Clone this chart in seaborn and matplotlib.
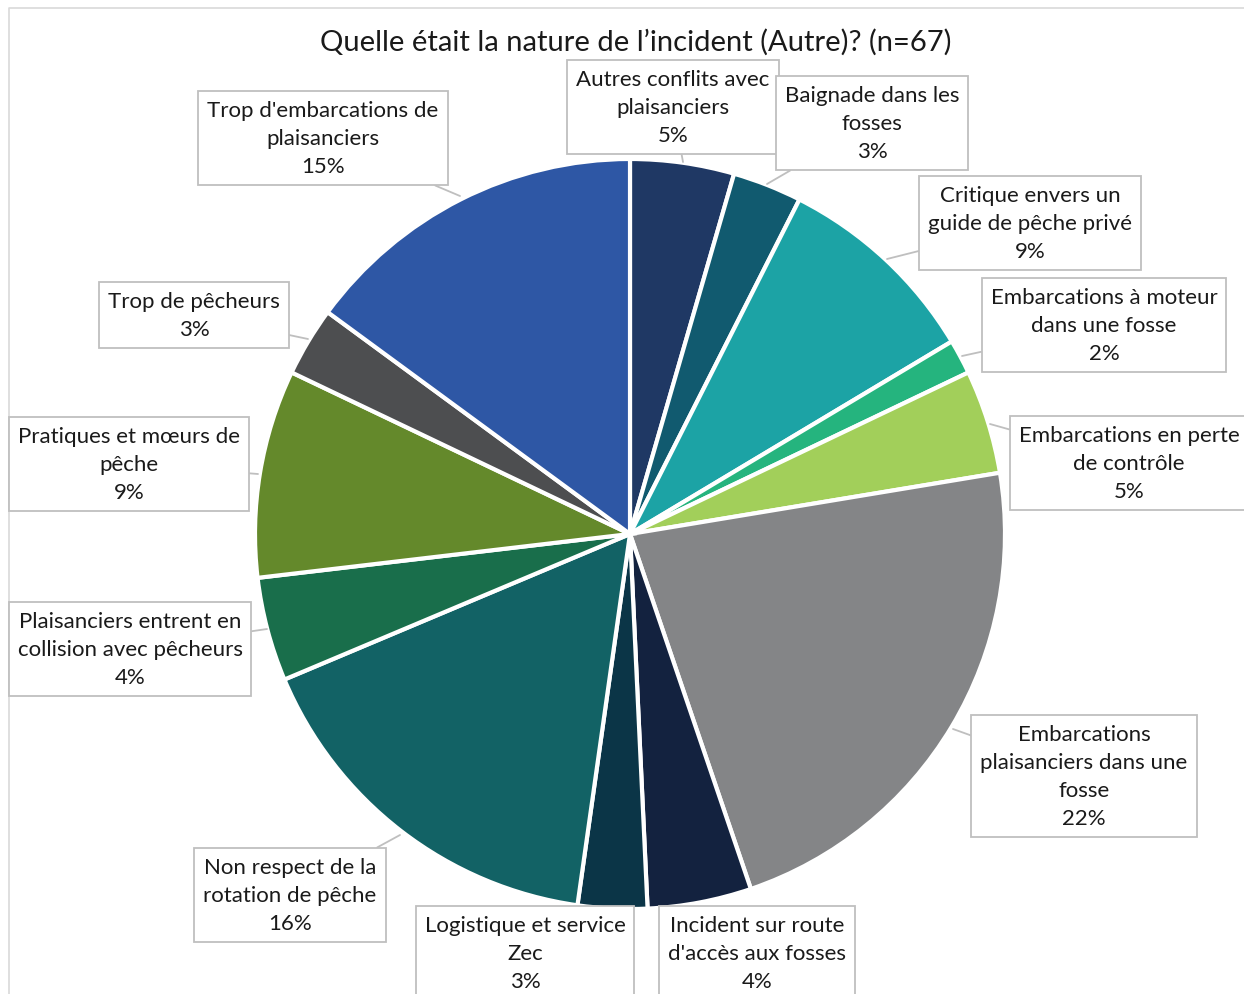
import matplotlib.pyplot as plt
import seaborn as sns

# data
categories = [
    "Autres conflits avec\nplaisanciers",
    "Baignade dans les\nfosses",
    "Critique envers un\nguide de pêche privé",
    "Embarcations à moteur\ndans une fosse",
    "Embarcations en perte\nde contrôle",
    "Embarcations\nplaisanciers dans une\nfosse",
    "Incident sur route\nd'accès aux fosses",
    "Logistique et service\nZec",
    "Non respect de la\nrotation de pêche",
    "Plaisanciers entrent en\ncollision avec pêcheurs",
    "Pratiques et mœurs de\npêche",
    "Trop de pêcheurs",
    "Trop d'embarcations de\nplaisanciers",
]
counts = [3, 2, 6, 1, 3, 15, 3, 2, 11, 3, 6, 2, 10]
pct_labels = ["5%", "3%", "9%", "2%", "5%", "22%", "4%", "3%", "16%", "4%", "9%", "3%", "15%"]

colors = ["#1F3864", "#115A6F", "#1CA3A5", "#25B47E", "#A2CF5A", "#848587",
          "#13223F", "#0B3547", "#126265", "#196E4B", "#64892B", "#4D4E50", "#2E57A5"]

# label box centres and leader tips (pixel coords, y from top)
box_pos = [(673, 108), (872, 124), (1030, 224), (1104, 326), (1129, 464), (1084, 777),
           (757, 954), (525, 954), (290, 896), (130, 650), (129, 465), (194, 316), (323, 139)]
tips = [(683, 163), (767, 185), (887, 260), (962, 357), (990, 425), (953, 730),
        None, None, (400, 836), (267, 630), (258, 475), (308, 340), (460, 197)]

W, H = 1244, 995


def fy(y):
    return H - y


sns.set_theme(style="white")
plt.rcParams['font.family'] = ['Lato', 'DejaVu Sans']

fig = plt.figure(figsize=(W / 100, H / 100), dpi=100)
ax = fig.add_axes([0, 0, 1, 1])
ax.set_xlim(0, W)
ax.set_ylim(0, H)
ax.set_aspect('equal')
ax.axis('off')

ax.pie(counts, colors=sns.color_palette(colors), startangle=90, counterclock=False,
       center=(630, fy(535)), radius=375,
       wedgeprops=dict(edgecolor='white', linewidth=3))
ax.set_xlim(0, W)
ax.set_ylim(0, H)

# outer chart border (only top and left visible)
ax.plot([9, 9, W], [0, fy(9), fy(9)], color='#D9D9D9', lw=1.2)

ax.text(636, fy(42), "Quelle était la nature de l’incident (Autre)? (n=67)",
        ha='center', va='center', fontsize=21, color='#1a1a1a')

for cat, pct, (bx, by), tip in zip(categories, pct_labels, box_pos, tips):
    txt = cat + "\n" + pct
    bbox = dict(boxstyle='square,pad=0.4', fc='white', ec='#BFBFBF', lw=1.3)
    if tip is None:
        ax.text(bx, fy(by), txt, ha='center', va='center', fontsize=16,
                linespacing=1.5, bbox=bbox, color='#1a1a1a')
    else:
        ax.annotate(txt, xy=(tip[0], fy(tip[1])), xytext=(bx, fy(by)),
                    ha='center', va='center', fontsize=16, linespacing=1.5,
                    bbox=bbox, color='#1a1a1a',
                    arrowprops=dict(arrowstyle='-', color='#BFBFBF', lw=1.3,
                                    shrinkA=0, shrinkB=0))

fig.savefig("out.png", dpi=100)
plt.close(fig)
